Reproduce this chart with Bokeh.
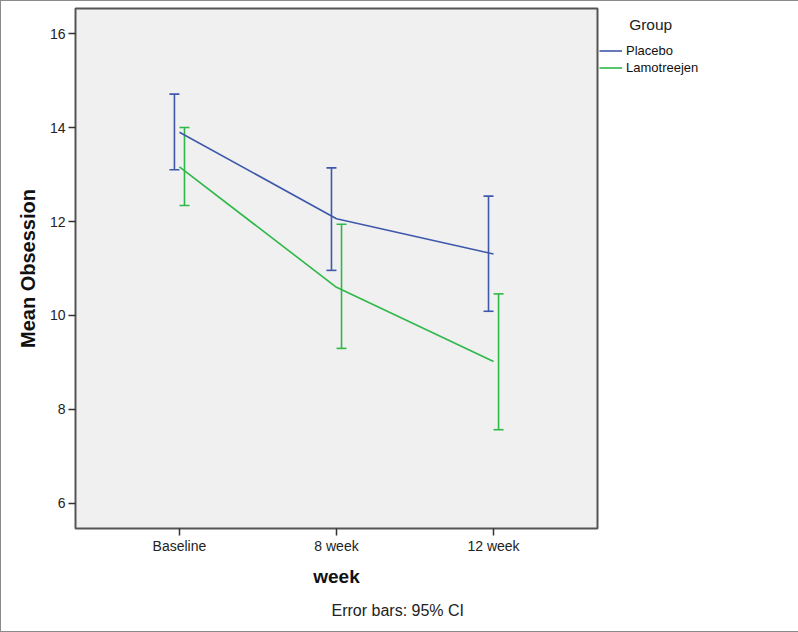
from bokeh.plotting import figure
from bokeh.models import (Range1d, FixedTicker, Legend, LegendItem, Title,
                          ColumnDataSource, TeeHead, Whisker)
from bokeh.embed import file_html
from bokeh.resources import INLINE

weeks = ["Baseline", "8 week", "12 week"]
placebo_mean = [13.90, 12.06, 11.31]
placebo_lower = [13.10, 10.96, 10.09]
placebo_upper = [14.71, 13.14, 12.54]
lamo_mean = [13.16, 10.60, 9.02]
lamo_lower = [12.34, 9.30, 7.57]
lamo_upper = [14.00, 11.94, 10.46]
y_ticks = [6, 8, 10, 12, 14, 16]
legend_title = "Group"

BLUE = "#3E58AC"
GREEN = "#2EB848"
FONT = "Liberation Sans"

p = figure(frame_width=522, frame_height=520, output_backend="svg",
           toolbar_location=None,
           x_range=Range1d(-0.662, 2.662), y_range=Range1d(5.468, 16.532),
           min_border_left=74, min_border_right=186, min_border_top=7,
           min_border_bottom=103)
p.styles = {"border": "1px solid #8a8a8a"}
p.background_fill_color = "#f0f0f0"
p.border_fill_color = "white"
p.outline_line_color = "#555555"
p.outline_line_width = 2
p.xgrid.visible = False
p.ygrid.visible = False

idx = list(range(len(weeks)))
p.xaxis.ticker = FixedTicker(ticks=idx)
p.xaxis.major_label_overrides = {i: w for i, w in zip(idx, weeks)}
p.yaxis.ticker = FixedTicker(ticks=y_ticks)
for ax in (p.xaxis[0], p.yaxis[0]):
    ax.axis_line_color = None
    ax.major_tick_in = 0
    ax.major_tick_out = 7
    ax.major_tick_line_color = "#333333"
    ax.major_tick_line_width = 1.5
    ax.minor_tick_line_color = None
    ax.major_label_text_font = FONT
    ax.major_label_text_font_size = "14px"
    ax.major_label_text_color = "#222222"
    ax.axis_label_text_font = FONT
    ax.axis_label_text_font_style = "bold"
    ax.axis_label_text_color = "#111111"
p.xaxis.axis_label = "week"
p.yaxis.axis_label = "Mean Obsession"
p.xaxis.axis_label_text_font_size = "19px"
p.yaxis.axis_label_text_font_size = "20px"
p.xaxis.major_label_standoff = 2
p.yaxis.major_label_standoff = 3
p.xaxis.axis_label_standoff = 9
p.yaxis.axis_label_standoff = 8

off = 0.032
groups = [
    ("Placebo", placebo_mean, placebo_lower, placebo_upper, BLUE, -off),
    ("Lamotreejen", lamo_mean, lamo_lower, lamo_upper, GREEN, off),
]
items = []
for name, mean, lo, hi, col, dx in groups:
    r = p.line(idx, mean, line_color=col, line_width=1.6)
    src = ColumnDataSource(dict(x=[i + dx for i in idx], lower=lo, upper=hi))
    w = Whisker(base="x", lower="lower", upper="upper", source=src,
                dimension="height", line_color=col, line_width=1.6,
                upper_head=TeeHead(size=10, line_color=col, line_width=1.6),
                lower_head=TeeHead(size=10, line_color=col, line_width=1.6))
    p.add_layout(w)
    items.append(LegendItem(label=name, renderers=[r]))

# indent the legend title (non-breaking spaces), as in the reference
legend = Legend(items=items, location=(2, 452), orientation="vertical",
                title="\u00a0" * 7 + legend_title, title_text_font=FONT,
                title_text_font_size="15.5px", title_text_font_style="normal",
                title_text_color="#222222", title_standoff=8,
                glyph_width=23, glyph_height=17, label_height=17,
                label_standoff=4, spacing=0, padding=3, margin=0,
                border_line_color=None, background_fill_alpha=0,
                label_text_font=FONT, label_text_font_size="13px",
                label_text_color="#111111")
p.add_layout(legend, "right")

p.add_layout(Title(text="Error bars: 95% CI", align="left", offset=256,
                   text_font=FONT, text_font_size="16px",
                   text_font_style="normal", text_color="#222222",
                   standoff=21), "below")

open("out.html", "w").write(file_html(p, INLINE))
